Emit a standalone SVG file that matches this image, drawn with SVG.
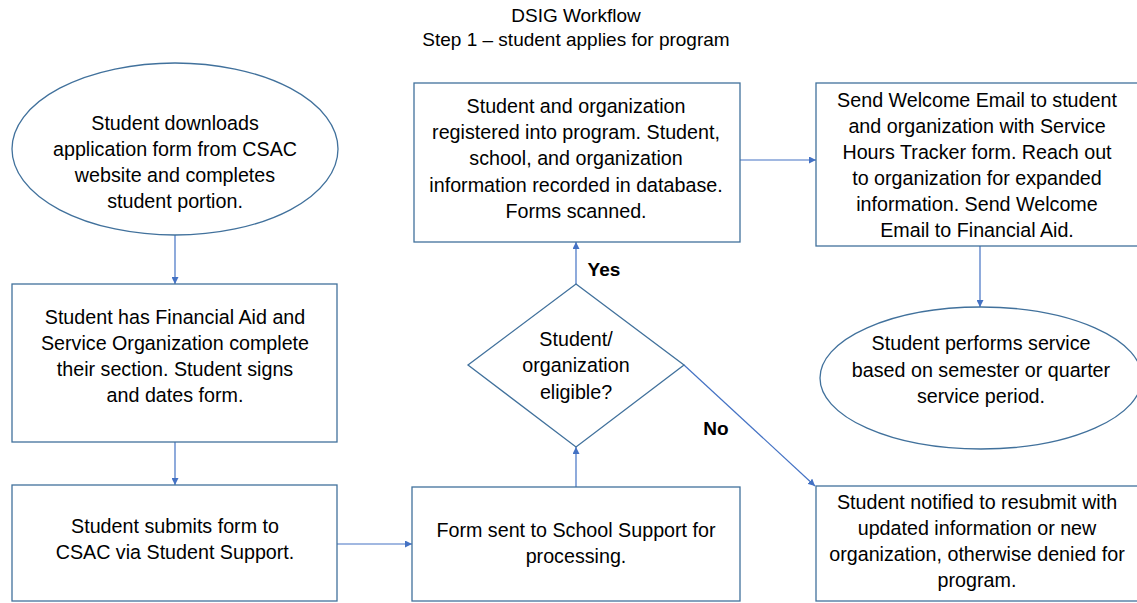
<svg xmlns="http://www.w3.org/2000/svg" width="1137" height="603" viewBox="0 0 1137 603">
<style>
.shape{fill:#ffffff;stroke:#41719C;stroke-width:1.3}
.t{font-family:"Liberation Sans",Arial,sans-serif;font-size:19.7px;fill:#000;text-anchor:middle}
.title{font-family:"Liberation Sans",Arial,sans-serif;font-size:19px;fill:#000;text-anchor:middle}
.lbl{font-family:"Liberation Sans",Arial,sans-serif;font-size:19px;font-weight:bold;fill:#000;text-anchor:middle}
.c{fill:none;stroke:#4472C4;stroke-width:1.2;marker-end:url(#ah)}
</style>
<defs>
<marker id="ah" viewBox="0 0 10 10" refX="10" refY="5" markerWidth="7" markerHeight="7" markerUnits="userSpaceOnUse" orient="auto">
<path d="M0,0 L10,5 L0,10 z" fill="#4472C4"/>
</marker>
</defs>
<rect width="1137" height="603" fill="#ffffff"/>
<g id="title">
<text class="title" x="576" y="22">DSIG Workflow</text>
<text class="title" x="576" y="46">Step 1 – student applies for program</text>
</g>
<g id="connectors">
<line class="c" x1="175" y1="235" x2="175" y2="284"/>
<line class="c" x1="175" y1="442" x2="175" y2="485"/>
<line class="c" x1="337" y1="544" x2="412" y2="544"/>
<line class="c" x1="576" y1="487" x2="576" y2="447"/>
<line class="c" x1="576" y1="284" x2="576" y2="242"/>
<line class="c" x1="740" y1="160" x2="816" y2="160"/>
<line class="c" x1="980" y1="246" x2="980" y2="307"/>
<line class="c" x1="684" y1="365" x2="815" y2="486"/>
<text class="lbl" x="604" y="276">Yes</text>
<text class="lbl" x="716" y="435">No</text>
</g>
<g id="n1">
<ellipse class="shape" cx="175" cy="149" rx="163" ry="86"/>
<text class="t" x="175" y="130">Student downloads</text>
<text class="t" x="175" y="156">application form from CSAC</text>
<text class="t" x="175" y="182">website and completes</text>
<text class="t" x="175" y="208">student portion.</text>
</g>
<g id="n2">
<rect class="shape" x="12" y="284" width="325" height="158"/>
<text class="t" x="175" y="324">Student has Financial Aid and</text>
<text class="t" x="175" y="350">Service Organization complete</text>
<text class="t" x="175" y="376">their section. Student signs</text>
<text class="t" x="175" y="402">and dates form.</text>
</g>
<g id="n3">
<rect class="shape" x="12" y="485" width="325" height="116"/>
<text class="t" x="175" y="533">Student submits form to</text>
<text class="t" x="175" y="559">CSAC via Student Support.</text>
</g>
<g id="n4">
<rect class="shape" x="412" y="487" width="328" height="114"/>
<text class="t" x="576" y="537">Form sent to School Support for</text>
<text class="t" x="576" y="563">processing.</text>
</g>
<g id="n5">
<polygon class="shape" points="576,284 684,365 576,447 468,365"/>
<text class="t" x="576" y="346">Student/</text>
<text class="t" x="576" y="372">organization</text>
<text class="t" x="576" y="399">eligible?</text>
</g>
<g id="n6">
<rect class="shape" x="414" y="83" width="326" height="159"/>
<text class="t" x="576" y="113">Student and organization</text>
<text class="t" x="576" y="139">registered into program. Student,</text>
<text class="t" x="576" y="165">school, and organization</text>
<text class="t" x="576" y="192">information recorded in database.</text>
<text class="t" x="576" y="218">Forms scanned.</text>
</g>
<g id="n7">
<rect class="shape" x="816" y="83" width="330" height="163"/>
<text class="t" x="977" y="107">Send Welcome Email to student</text>
<text class="t" x="977" y="133">and organization with Service</text>
<text class="t" x="977" y="159">Hours Tracker form. Reach out</text>
<text class="t" x="977" y="185">to organization for expanded</text>
<text class="t" x="977" y="211">information. Send Welcome</text>
<text class="t" x="977" y="237">Email to Financial Aid.</text>
</g>
<g id="n8">
<ellipse class="shape" cx="981" cy="378" rx="161" ry="71"/>
<text class="t" x="981" y="350">Student performs service</text>
<text class="t" x="981" y="377">based on semester or quarter</text>
<text class="t" x="981" y="403">service period.</text>
</g>
<g id="n9">
<rect class="shape" x="816" y="486" width="330" height="115"/>
<text class="t" x="977" y="509">Student notified to resubmit with</text>
<text class="t" x="977" y="535">updated information or new</text>
<text class="t" x="977" y="561">organization, otherwise denied for</text>
<text class="t" x="977" y="587">program.</text>
</g>
</svg>
